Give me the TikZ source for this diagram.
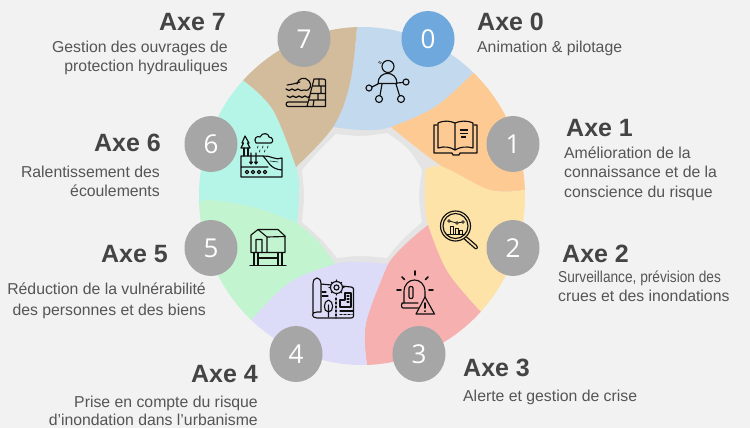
\documentclass[tikz,border=0pt]{standalone}
\usepackage{fontspec}
\setmainfont{Liberation Sans}
\newfontfamily\digitfont{Open Sans}
\usetikzlibrary{shapes.geometric}
\definecolor{bgc}{HTML}{F2F2F2}
\definecolor{ringc}{HTML}{E4E4E4}
\definecolor{pblue}{HTML}{C3D9EE}
\definecolor{porange}{HTML}{FDCA94}
\definecolor{pyellow}{HTML}{FEE3A8}
\definecolor{ppink}{HTML}{F6B0B0}
\definecolor{plav}{HTML}{DCDCF8}
\definecolor{pgreen}{HTML}{C1F4CF}
\definecolor{pcyan}{HTML}{B5F5E8}
\definecolor{ptan}{HTML}{D3BC9C}
\definecolor{discg}{HTML}{A6A6A6}
\definecolor{discb}{HTML}{6FA8DC}
\definecolor{headc}{HTML}{444444}
\definecolor{bodyc}{HTML}{555555}
\definecolor{inkc}{HTML}{101010}
\tikzset{
 disc/.style={ellipse,fill=discg,minimum width=53pt,minimum height=56pt,inner sep=0pt,text=white,font=\digitfont\fontsize{26}{26}\selectfont},
 head/.style={inner sep=0pt,text=headc,font=\fontsize{25}{25}\selectfont\bfseries},
 body/.style={inner sep=0pt,text=bodyc,font=\fontsize{15.8}{15.8}\selectfont},
 icon/.style={draw=inkc,line width=1.15pt,line join=round,line cap=round},
 thick icon/.style={icon,line width=1.7pt},
 smoothp/.style={smooth,tension=0.6},
}
\begin{document}
\begin{tikzpicture}[x=1pt,y=-1pt]
\useasboundingbox (0,0) rectangle (750,428);
\fill[bgc] (0,0) rectangle (750,428);
% ring and hole
\fill[ringc] (362,196) ellipse [x radius=150pt,y radius=150pt];
\fill[bgc] plot[smoothp] coordinates {(336,134) (362,136) (387,133)}
 -- plot[smoothp] coordinates {(387,133) (408,149) (422,170)}
 -- plot[smoothp] coordinates {(422,170) (419,196) (422,222)}
 -- plot[smoothp] coordinates {(422,222) (402,240) (387,258)}
 -- plot[smoothp] coordinates {(387,258) (361,256) (337,258)}
 -- plot[smoothp] coordinates {(337,258) (322,240) (302,222)}
 -- plot[smoothp] coordinates {(302,222) (304,196) (302,170)}
 -- plot[smoothp] coordinates {(302,170) (318,152) (336,134)} -- cycle;
% petals clipped to the outer ellipse
\begin{scope}
\clip (362,196) ellipse [x radius=163pt,y radius=169pt];
\fill[pblue] (357,0) -- (520,0) -- (520,28) -- plot[smoothp] coordinates {(473,73) (435,107) (391,127) (363,130) (333,127)}
 -- plot[smoothp] coordinates {(333,127) (350,83) (357,27)} -- cycle;
\fill[porange] (520,28) -- (600,100) -- (600,190) -- plot[smoothp] coordinates {(525,190) (490,190) (443,167) (391,127)}
 -- plot[smoothp] coordinates {(391,127) (435,107) (473,73)} -- cycle;
\fill[pyellow] (600,190) -- (600,300) -- (520,350) -- plot[smoothp] coordinates {(480,311) (447,271) (428,225) (425,195) (425,170)}
 -- plot[smoothp] coordinates {(425,170) (443,167) (490,190) (525,190)} -- cycle;
\fill[ppink] (520,350) -- (500,428) -- (367,428) -- plot[smoothp] coordinates {(367,365) (366,323) (388,264) (428,225)}
 -- plot[smoothp] coordinates {(428,225) (447,271) (480,311)} -- cycle;
\fill[plav] (367,428) -- (200,428) -- (215,360) -- plot[smoothp] coordinates {(252,319) (290,282) (335,264) (361,262) (388,264)}
 -- plot[smoothp] coordinates {(388,264) (366,323) (367,365)} -- cycle;
\fill[pgreen] (215,360) -- (150,300) -- (150,202) -- plot[smoothp] coordinates {(200,202) (212,200) (257,208) (297,223)}
 -- plot[smoothp] coordinates {(297,223) (318,241) (335,264)}
 -- plot[smoothp] coordinates {(335,264) (290,282) (252,319)} -- cycle;
\fill[pcyan] (150,202) -- (150,100) -- (215,50) -- plot[smoothp] coordinates {(244,81) (273,110) (296,167) (299,195) (297,223)}
 -- plot[smoothp] coordinates {(297,223) (257,208) (212,200) (200,202)} -- cycle;
\fill[ptan] (215,50) -- (260,0) -- (357,0) -- plot[smoothp] coordinates {(357,27) (350,83) (333,127) (296,167)}
 -- plot[smoothp] coordinates {(296,167) (273,110) (244,81)} -- cycle;
\end{scope}
% discs
\node[disc,fill=discb] (d0) at (428,39) {0};
\node[disc] (d1) at (513,144) {1};
\node[disc] (d2) at (513,248) {2};
\node[disc] (d3) at (419,354) {3};
\node[disc] (d4) at (296,354) {4};
\node[disc] (d5) at (211,248) {5};
\node[disc] (d6) at (211,144) {6};
\node[disc] (d7) at (304,39) {7};
% texts
\node[head,anchor=base west] (h0) at (477,31) {Axe 0};
\node[body,anchor=base west] (t0) at (477,53) {Animation \& pilotage};
\node[head,anchor=base west] (h1) at (566,136) {Axe 1};
\node[body,anchor=base west] (t1a) at (564,158) {Amélioration de la};
\node[body,anchor=base west] (t1b) at (564,177) {connaissance et de la};
\node[body,anchor=base west] (t1c) at (564,197) {conscience du risque};
\node[head,anchor=base west] (h2) at (562,262) {Axe 2};
\node[body,anchor=base west,transform shape,xscale=0.866] (t2a) at (558,282) {Surveillance, prévision des};
\node[body,anchor=base west] (t2b) at (558,301) {crues et des inondations};
\node[head,anchor=base west] (h3) at (463,376) {Axe 3};
\node[body,anchor=base west] (t3) at (463,401) {Alerte et gestion de crise};
\node[head,anchor=base east] (h4) at (258,382) {Axe 4};
\node[body,anchor=base east] (t4a) at (258,407) {Prise en compte du risque};
\node[body,anchor=base east] (t4b) at (258,425.5) {d’inondation dans l’urbanisme};
\node[head,anchor=base east] (h5) at (168,262) {Axe 5};
\node[body,anchor=base east] (t5a) at (206,294) {Réduction de la vulnérabilité};
\node[body,anchor=base east] (t5b) at (206,315) {des personnes et des biens};
\node[head,anchor=base east] (h6) at (161,151) {Axe 6};
\node[body,anchor=base east] (t6a) at (160,177) {Ralentissement des};
\node[body,anchor=base east] (t6b) at (160,196) {écoulements};
\node[head,anchor=base east] (h7) at (226,31) {Axe 7};
\node[body,anchor=base east] (t7a) at (228,53) {Gestion des ouvrages de};
\node[body,anchor=base east] (t7b) at (228,72) {protection hydrauliques};
% icon 0
\draw[icon] (388,66.5) circle [radius=6pt];
\draw[icon] (378,83.5) .. controls (378,70) and (397,70) .. (397,83.5) -- cycle;
\draw[icon] (369,88) circle [radius=3pt] (406,82) circle [radius=3pt] (379,99) circle [radius=3.5pt] (401,99) circle [radius=3.5pt];
\draw[icon] (378,84) -- (372,87) (397,83) -- (403,82.5) (382,84) -- (380,95.5) (396,84) -- (399.5,95.5);
\draw[icon,line width=.4pt] (378,62) -- (381,64) (379,61) -- (382,63);
% icon 1
\draw[icon] (437,125) -- (434,125) -- (434,153) -- (452,153) -- (453,155) -- (459,155) -- (460,153) -- (477,153) -- (477,125) -- (474,125);
\draw[icon] (455,150) .. controls (450,147) and (445,146) .. (438,148) -- (438,123) .. controls (445,120) and (450,121) .. (455,123) -- (455,150) .. controls (460,147) and (466,146) .. (473,148) -- (473,123) .. controls (466,120) and (460,121) .. (455,123);
\draw[thick icon,line cap=butt] (459.5,130) -- (468,130) (459.5,133.5) -- (467.5,133.5) (461,137) -- (466,137);
% icon 7
\draw[icon] (307,102) -- (288,102) .. controls (285.5,102) and (285.5,106.5) .. (288,106.5) -- (325.5,106.5) -- (325.5,81) .. controls (325.5,79.5) and (325,79) .. (323,79) -- (314,79) -- (307,106.5);
\draw[icon] (313,86) -- (325.5,86) (311,93.5) -- (325.5,93.5) (309,100) -- (325.5,100) (319,79) -- (319,86) (318,93.5) -- (318,100) (314,100) -- (313,106.5) (321,86) -- (321,93.5);
\draw[icon] (286,89) .. controls (288,91) and (290,91) .. (292,89) .. controls (294,91) and (296,91) .. (298,89) .. controls (300,91) and (302,91) .. (304,90) .. controls (311,92) and (312,84) .. (309,81) .. controls (305,76) and (298,78) .. (297,84) (300,82) -- (293,84) -- (287,85);
\draw[icon] (287,96) .. controls (289,98) and (291,98) .. (293,96) .. controls (295,98) and (297,98) .. (299,96) .. controls (301,98) and (303,98) .. (305,96) .. controls (307,98) and (309,98) .. (310,96);
% icon 6
\draw[icon] (245,136) -- (249,143) -- (247.5,143) -- (250,148) -- (241,148) -- (243.5,143) -- (242,143) -- cycle;
\draw[icon] (244,148) -- (244,156) (248,148) -- (248,156);
\draw[icon] (256,143) .. controls (253,139) and (257,135) .. (260,137) .. controls (262,132) and (269,133) .. (269,137) .. controls (273,137) and (274,142) .. (271,143) -- cycle;
\draw[icon,line width=.7pt] (258,146) -- (257.5,148) (263,146) -- (262.5,148) (268,146) -- (267.5,148) (260,150) -- (259.5,152) (265,150) -- (264.5,152);
\draw[icon] (241,156) -- (263,156) .. controls (269,162) and (270,169) .. (282,170) (241,156) -- (241,177) -- (282,177) -- (282,158) .. controls (276,161) and (270,155) .. (263,156) (241,167) -- (268,167);
\draw[icon,line width=.6pt] (270,161) -- (278,162);
\draw[icon] (247,172) circle [radius=1.8pt] (253,172) circle [radius=1.8pt] (259,172) circle [radius=1.8pt] (265,172) circle [radius=1.8pt];
\draw[icon] (251,153) -- (251,164) (256,153) -- (256,164) (249.5,162) -- (251,164) -- (252.5,162) (254.5,162) -- (256,164) -- (257.5,162);
% icon 2
\draw[icon] (455.5,226) circle [radius=15pt] (455.5,226) circle [radius=12.5pt];
\draw[icon,line width=.8pt] (449,221) -- (457,223) -- (463,222);
\draw[icon,fill=pyellow,line width=.7pt] (449,221) circle [radius=1.3pt] (457,223) circle [radius=1.3pt] (463,222) circle [radius=1.3pt];
\draw[icon,line width=.8pt] (450,234) -- (450,226) -- (453,226) -- (453,234) (455,234) -- (455,228) -- (458,228) -- (458,234) (459.5,234) -- (459.5,230) -- (462.5,230) -- (462.5,234) (447,234) -- (465,234);
\draw[icon] (466.5,237) -- (469,239) -- (476.5,245.5) .. controls (479,248.5) and (475.5,250) .. (474,247.5) -- (466,240.5) -- (464,238.5);
% icon 3
\draw[icon] (404,303) -- (404,292) .. controls (404,276) and (425,276) .. (425,292) -- (425,297);
\draw[icon] (402,303) -- (418,303) (419,308) -- (403,308) .. controls (401,308) and (401,303) .. (403,303);
\draw[icon] (409,288) .. controls (409,286) and (413,286) .. (413,288) -- (413,297) .. controls (413,299) and (409,299) .. (409,297) -- cycle;
\draw[thick icon] (415,271) -- (415,275) (402,277) -- (404.5,279.5) (428,277) -- (425.5,279.5) (397,290) -- (401,290) (429,290) -- (433,290);
\draw[icon,fill=ppink] (425,297) -- (434.5,314) -- (416,314) -- cycle;
\draw[thick icon] (425,303) -- (425,308) (425,311) -- (425,311.3);
% icon 4
\draw[icon] (321,284) -- (351,287) .. controls (352.5,287) and (353.5,288) .. (353.5,289) -- (353.5,316) .. controls (353.5,317.5) and (352.5,318) .. (351,318) -- (317,318) .. controls (311,318) and (311,312) .. (317,312) -- (321,312) -- (321,284) .. controls (321,276) and (313,276) .. (313,284) -- (313,314);
\fill[plav] (331,280) rectangle (342,295);
\draw[icon] (336.5,287.5) circle [radius=6pt] (336.5,287.5) circle [radius=2.5pt];
\draw[icon,line width=1.1pt] (336.5,280) -- (336.5,281.5) (336.5,293.5) -- (336.5,295) (329,287.5) -- (330.5,287.5) (342.5,287.5) -- (344,287.5) (331.2,282.2) -- (332.3,283.3) (340.7,291.7) -- (341.8,292.8) (331.2,292.8) -- (332.3,291.7) (340.7,283.3) -- (341.8,282.2);
\draw[icon] (328.5,300) .. controls (323,301) and (323,312) .. (328.5,312) .. controls (334,312) and (334,301) .. (328.5,300) (328.5,305) -- (328.5,317);
\draw[icon,dash pattern=on 2pt off 2pt] (336,298) -- (336,318);
\draw[icon] (340,307) -- (340,300) -- (345,300) -- (345,293) -- (351,293) -- (351,307) -- cycle (347,296) -- (349,296) (347,299) -- (349,299) (347,302) -- (349,302);
\draw[icon] (322,296) -- (328,296) (322,292) -- (326,292) (340,311) -- (353,311);
\draw[icon,dash pattern=on 2pt off 2pt] (340,314.5) -- (352,314.5);
% icon 5
\draw[icon] (251,252.5) -- (251,235) -- (258,229.5) -- (278,229.5) -- (285,236) -- (285,252.5) -- cycle;
\draw[icon] (258,229.5) -- (267,237) -- (285,236.5) (267,237) -- (267,252.5) (256,252.5) -- (256,239.5) -- (262,239.5) -- (262,252.5);
\draw[icon] (254,252.5) -- (254,265) (258,252.5) -- (258,265) (278,252.5) -- (278,265) (282,252.5) -- (282,265) (258,258) -- (278,258) (250,265.5) -- (286,265.5);
\end{tikzpicture}
\end{document}
